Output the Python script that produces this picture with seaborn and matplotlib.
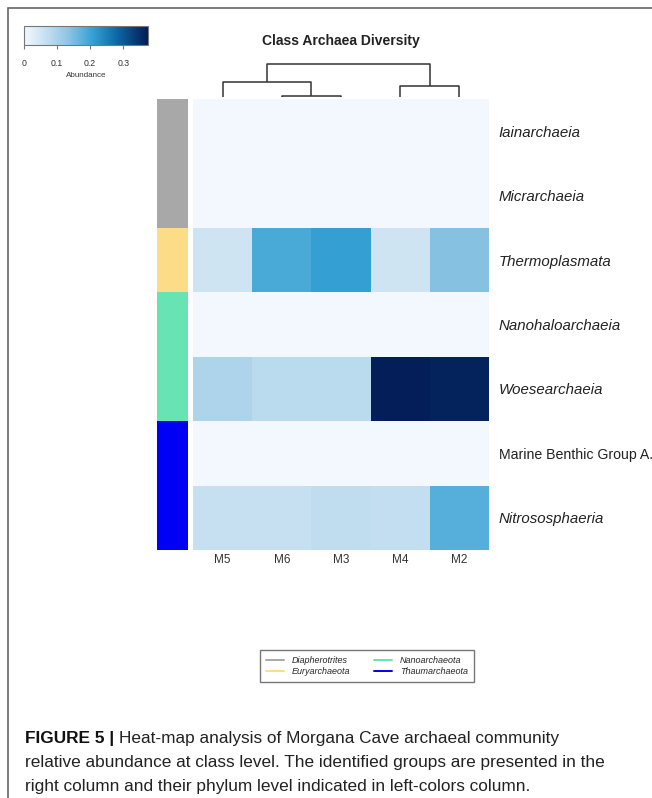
import numpy as np
import pandas as pd
import seaborn as sns
import matplotlib.pyplot as plt
from matplotlib import font_manager
from matplotlib.colors import LinearSegmentedColormap, ListedColormap
from matplotlib.lines import Line2D
from matplotlib.patches import Rectangle

# data
samples = ["M5", "M6", "M3", "M4", "M2"]
classes = ["Iainarchaeia", "Micrarchaeia", "Thermoplasmata", "Nanohaloarchaeia",
           "Woesearchaeia", "Marine Benthic Group A.", "Nitrososphaeria"]
italic_class = [True, True, True, True, True, False, True]
phylum_of_class = ["Diapherotrites", "Diapherotrites", "Euryarchaeota", "Nanoarchaeota",
                   "Nanoarchaeota", "Thaumarchaeota", "Thaumarchaeota"]
phyla = ["Diapherotrites", "Euryarchaeota", "Nanoarchaeota", "Thaumarchaeota"]
phylum_colors = ["#a8a8a8", "#fddc87", "#68e3b4", "#0000f5"]

iainarchaeia = [0.0, 0.0, 0.0, 0.0, 0.0]
micrarchaeia = [0.0, 0.0, 0.0, 0.0, 0.0]
thermoplasmata = [0.055, 0.19, 0.21, 0.055, 0.14]
nanohaloarchaeia = [0.0, 0.0, 0.0, 0.0, 0.0]
woesearchaeia = [0.095, 0.08, 0.08, 0.372, 0.365]
marine_benthic_a = [0.0, 0.0, 0.0, 0.0, 0.0]
nitrososphaeria = [0.065, 0.065, 0.072, 0.068, 0.18]

# column dendrogram (scipy-like linkage: child a, child b, height)
col_linkage = [(1, 2, 0.03), (0, 5, 0.45), (3, 4, 0.33), (6, 7, 1.0)]

cbar_ticks = [0, 0.1, 0.2, 0.3]

df = pd.DataFrame([iainarchaeia, micrarchaeia, thermoplasmata, nanohaloarchaeia,
                   woesearchaeia, marine_benthic_a, nitrososphaeria],
                  index=classes, columns=samples)
side = pd.DataFrame({"phylum": [phyla.index(p) for p in phylum_of_class]}, index=classes)

sns.set_style("white")
plt.rcParams["font.family"] = ["Liberation Sans", "DejaVu Sans"]


# pick a family that really has an italic face
def italic_family():
    for fam in ["Liberation Sans", "Roboto", "Open Sans", "Lato", "Noto Sans", "Inter"]:
        try:
            p = font_manager.findfont(font_manager.FontProperties(family=fam, style="italic"),
                                      fallback_to_default=False)
        except Exception:
            continue
        if "italic" in p.lower() or "oblique" in p.lower():
            return fam
    return "DejaVu Sans"


ifam = italic_family()

W, H = 652, 798
fig = plt.figure(figsize=(W / 100, H / 100), dpi=100)


def rect(x0, y0, x1, y1):
    return [x0 / W, 1 - y1 / H, (x1 - x0) / W, (y1 - y0) / H]


ax = fig.add_axes(rect(193, 99, 489, 550))
sax = fig.add_axes(rect(157, 99, 188, 550))
dax = fig.add_axes(rect(193, 64, 489, 97))
cax = fig.add_axes(rect(24, 26, 148, 45))

cmap = LinearSegmentedColormap.from_list(
    "abund", [(0, "#f2f8fd"), (0.15, "#cde3f3"), (0.35, "#90c5e4"),
              (0.55, "#35a2d4"), (0.75, "#0b68a6"), (1.0, "#031c55")])

sns.heatmap(df, ax=ax, cmap=cmap, vmin=0, vmax=0.375, cbar_ax=cax,
            cbar_kws=dict(orientation="horizontal", ticks=cbar_ticks),
            xticklabels=True, yticklabels=True)
ax.yaxis.tick_right()
ax.tick_params(axis="y", length=0, pad=7, labelsize=10.8, labelcolor="#222222")
ax.tick_params(axis="x", length=0, pad=3, labelsize=8.5, labelcolor="#333333")
for lab, it in zip(ax.get_yticklabels(), italic_class):
    lab.set_rotation(0)
    lab.set_ha("left")
    if it:
        lab.set_family(ifam)
        lab.set_style("italic")
    else:
        lab.set_fontsize(10.2)
for lab in ax.get_xticklabels():
    lab.set_rotation(0)

sns.heatmap(side, ax=sax, cmap=ListedColormap(phylum_colors), vmin=-0.5, vmax=3.5,
            cbar=False, xticklabels=False, yticklabels=False)

# colorbar styling
cb = ax.collections[0].colorbar
cb.outline.set_edgecolor("#777777")
cb.outline.set_linewidth(0.8)
cax.tick_params(axis="x", length=3, width=0.8, color="#777777", labelsize=6.3,
                labelcolor="#333333", pad=7)
cax.set_xticklabels(["0", "0.1", "0.2", "0.3"])
cb.set_label("Abundance", fontsize=5.8, color="#333333", labelpad=3)

# dendrogram
n = len(samples)
pos = {i: (i + 0.5, 0.0) for i in range(n)}
for k, (a, b, h) in enumerate(col_linkage):
    xa, ya = pos[a]
    xb, yb = pos[b]
    dax.plot([xa, xa, xb, xb], [ya, h, h, yb], color="#333333", lw=1.1,
             solid_capstyle="butt", clip_on=False)
    pos[n + k] = ((xa + xb) / 2, h)
dax.set_xlim(0, n)
dax.set_ylim(0, 1)
dax.axis("off")

fig.text(341 / W, 1 - 41 / H, "Class Archaea Diversity", ha="center", va="center",
         fontsize=10, fontweight="bold", color="#222222")

# phylum legend
handles = [Line2D([0], [0], color=c, lw=1.4) for c in phylum_colors]
fig.legend(handles, phyla, ncol=2, loc="center", bbox_to_anchor=(367 / W, 1 - 666 / H),
           prop=dict(family=ifam, style="italic", size=6.5), frameon=True, fancybox=False,
           edgecolor="#555555", handlelength=2.0, handletextpad=0.9,
           columnspacing=2.6, labelspacing=0.25, borderpad=0.6)

# caption
cap = fig.add_axes([0, 0, 1, 1])
cap.axis("off")
cap.set_zorder(-1)
fsz = 12.4
t = cap.text(25 / W, 1 - 743 / H, "FIGURE 5 | ", fontsize=fsz, fontweight="bold",
             va="baseline", color="#111111", transform=fig.transFigure)
cap.annotate("Heat-map analysis of Morgana Cave archaeal community", xy=(1, 0),
             xycoords=t, va="bottom", fontsize=fsz, color="#222222")
cap.text(25 / W, 1 - 767 / H, "relative abundance at class level. The identified groups are presented in the",
         fontsize=fsz, va="baseline", color="#222222", transform=fig.transFigure)
cap.text(25 / W, 1 - 791 / H, "right column and their phylum level indicated in left-colors column.",
         fontsize=fsz, va="baseline", color="#222222", transform=fig.transFigure)

# page frame
fig.add_artist(Rectangle((8 / W, -0.1), 1.2, 1.1 - 8 / H, fill=False, edgecolor="#666666",
                         lw=1.2, transform=fig.transFigure))

fig.savefig("out.png", dpi=100)
